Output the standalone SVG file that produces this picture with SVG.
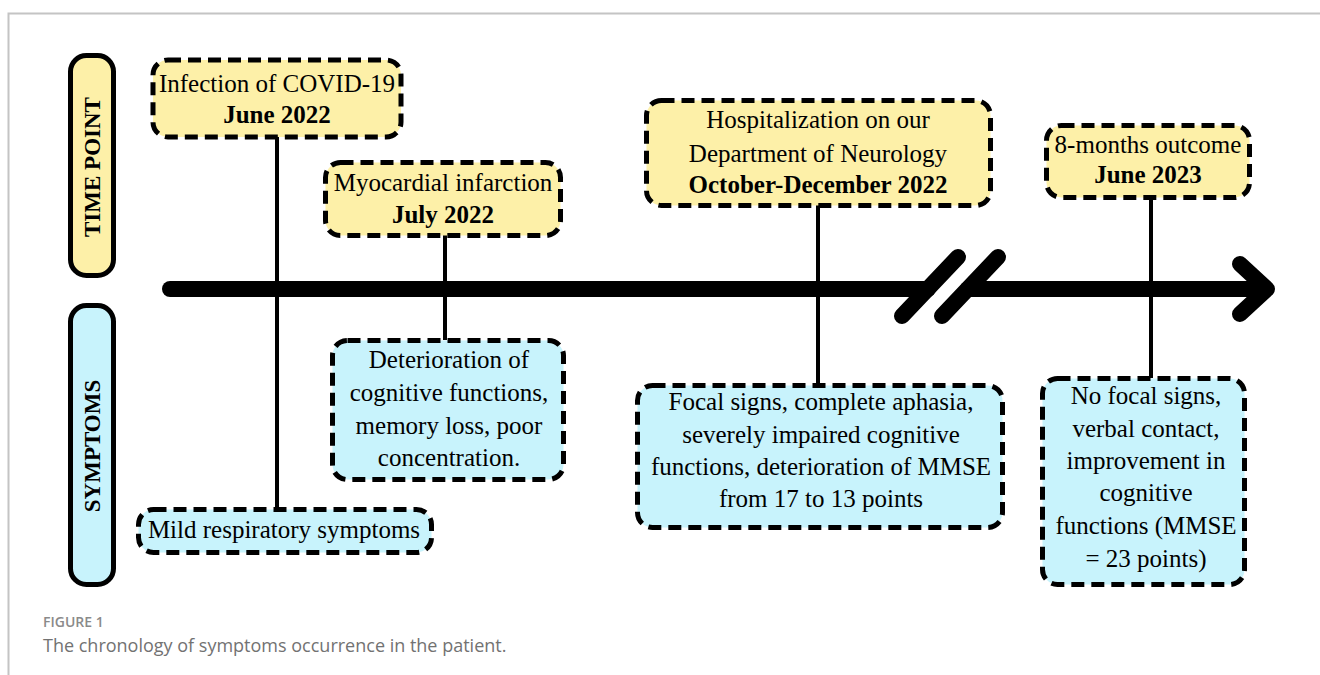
<svg xmlns="http://www.w3.org/2000/svg" width="1320" height="675" viewBox="0 0 1320 675">
<style>
  .frame{fill:none;stroke:#c4c4c4;stroke-width:2}
  .pill{stroke:#000;stroke-width:5}
  .yel{fill:#fdf0a8}
  .cyn{fill:#c8f3fc}
  .box{stroke:#000;stroke-width:5;stroke-dasharray:13 7}
  .conn{stroke:#000;stroke-width:4;fill:none}
  .axis{stroke:#000;stroke-width:16;stroke-linecap:round;stroke-linejoin:round;fill:none}
  .t{font-family:"Liberation Serif","Times New Roman",serif;font-size:25px;fill:#000;text-anchor:middle}
  .b{font-weight:bold}
  .pt{font-family:"Liberation Serif","Times New Roman",serif;font-size:23px;font-weight:bold;fill:#000;text-anchor:middle}
  .cap1{font-family:"Open Sans",sans-serif;font-size:14px;font-weight:600;fill:#8a8a8a}
  .cap2{font-family:"Open Sans",sans-serif;font-size:18px;fill:#727272}
</style>
<path class="frame" d="M8.5 675 V13.5 H1320"/>

<g id="connectors">
  <line class="conn" x1="277" y1="137" x2="277" y2="509"/>
  <line class="conn" x1="445" y1="235" x2="445" y2="340"/>
  <line class="conn" x1="818" y1="205" x2="818" y2="385"/>
  <line class="conn" x1="1151" y1="197" x2="1151" y2="378"/>
  <g id="timeline">
    <line class="axis" x1="170" y1="289" x2="928" y2="289"/>
    <line class="axis" x1="968" y1="289" x2="1262" y2="289"/>
    <line class="axis" x1="902" y1="316" x2="958" y2="257"/>
    <line class="axis" x1="942" y1="316" x2="998" y2="257"/>
    <polyline class="axis" points="1240,264 1267,289 1240,314"/>
  </g>
</g>

<g id="label-timepoint">
  <rect class="pill yel" x="70.5" y="55.5" width="43" height="220" rx="16"/>
  <text class="pt" transform="translate(100,167) rotate(-90)">TIME POINT</text>
</g>
<g id="label-symptoms">
  <rect class="pill cyn" x="70.5" y="305.5" width="43" height="279" rx="16"/>
  <text class="pt" transform="translate(100,446) rotate(-90)">SYMPTOMS</text>
</g>

<g id="node-covid">
  <rect class="box yel" x="153" y="60" width="248" height="77" rx="15"/>
  <text class="t" x="277" y="92">Infection of COVID-19</text>
  <text class="t b" x="277" y="123">June 2022</text>
</g>
<g id="node-mi">
  <rect class="box yel" x="325.5" y="162.5" width="235" height="73" rx="15"/>
  <text class="t" x="443" y="191">Myocardial infarction</text>
  <text class="t b" x="443" y="223">July 2022</text>
</g>
<g id="node-hosp">
  <rect class="box yel" x="646.5" y="100.5" width="344" height="105" rx="15"/>
  <text class="t" x="818" y="128">Hospitalization on our</text>
  <text class="t" x="818" y="162">Department of Neurology</text>
  <text class="t b" x="818" y="193">October-December 2022</text>
</g>
<g id="node-outcome">
  <rect class="box yel" x="1046.5" y="125.5" width="203" height="72" rx="15"/>
  <text class="t" x="1148" y="153">8-months outcome</text>
  <text class="t b" x="1148" y="183">June 2023</text>
</g>

<g id="node-mild">
  <rect class="box cyn" x="138.5" y="509.5" width="293" height="43" rx="15"/>
  <text class="t" x="284" y="538">Mild respiratory symptoms</text>
</g>
<g id="node-deter">
  <rect class="box cyn" x="332.5" y="340.5" width="231" height="139" rx="15"/>
  <text class="t" x="449" y="368">Deterioration of</text>
  <text class="t" x="449" y="401">cognitive functions,</text>
  <text class="t" x="449" y="434">memory loss, poor</text>
  <text class="t" x="449" y="466">concentration.</text>
</g>
<g id="node-focal">
  <rect class="box cyn" x="637.5" y="385.5" width="365" height="142" rx="15"/>
  <text class="t" x="821" y="410">Focal signs, complete aphasia,</text>
  <text class="t" x="821" y="443">severely impaired cognitive</text>
  <text class="t" x="821" y="475">functions, deterioration of MMSE</text>
  <text class="t" x="821" y="507">from 17 to 13 points</text>
</g>
<g id="node-nofocal">
  <rect class="box cyn" x="1042.5" y="378.5" width="202" height="206" rx="15"/>
  <text class="t" x="1146" y="404">No focal signs,</text>
  <text class="t" x="1146" y="437">verbal contact,</text>
  <text class="t" x="1146" y="469">improvement in</text>
  <text class="t" x="1146" y="501">cognitive</text>
  <text class="t" x="1146" y="534">functions (MMSE</text>
  <text class="t" x="1146" y="567">= 23 points)</text>
</g>

<text class="cap1" x="43" y="627">FIGURE 1</text>
<text class="cap2" x="43" y="652">The chronology of symptoms occurrence in the patient.</text>
</svg>
